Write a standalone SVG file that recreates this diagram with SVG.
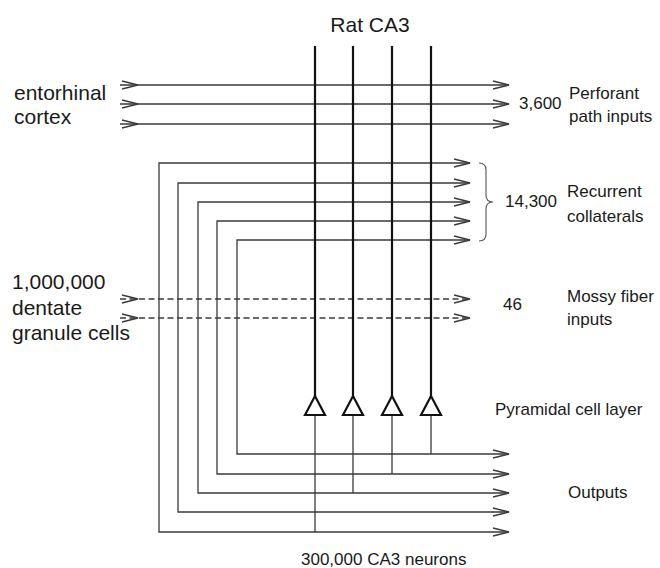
<svg xmlns="http://www.w3.org/2000/svg" xmlns:xlink="http://www.w3.org/1999/xlink" width="660" height="568" viewBox="0 0 660 568">
<style>
.thin{stroke:#3a3a3a;stroke-width:1.3;fill:none}
.thick{stroke:#111;stroke-width:2.2;fill:none}
.tri{stroke:#111;stroke-width:2.2;fill:#fff;stroke-linejoin:miter}
.dash{stroke-dasharray:6 3.5}
.chev{stroke:#3a3a3a;stroke-width:1.3;fill:none}
.brace{stroke:#555;stroke-width:1.1;fill:none}
text{font-family:"Liberation Sans",Arial,sans-serif;fill:#1a1a1a}
.big{font-size:21px}
.sm{font-size:17px}
</style>
<defs>
<path id="chev" d="M-16,-4 L0,0 L-16,4" class="chev"/>
</defs>
<rect width="660" height="568" fill="#fff"/>

<g id="connectors">
  <!-- perforant path inputs -->
  <path class="thin" d="M120,85 H509 M120,104 H509 M120,124 H509"/>
  <use xlink:href="#chev" x="138" y="85"/><use xlink:href="#chev" x="138" y="104"/><use xlink:href="#chev" x="138" y="124"/>
  <use xlink:href="#chev" x="509" y="85"/><use xlink:href="#chev" x="509" y="104"/><use xlink:href="#chev" x="509" y="124"/>
  <!-- mossy fiber inputs -->
  <path class="thin dash" d="M120,299 H470 M120,318 H470"/>
  <use xlink:href="#chev" x="138" y="299"/><use xlink:href="#chev" x="138" y="318"/>
  <use xlink:href="#chev" x="470" y="299"/><use xlink:href="#chev" x="470" y="318"/>
  <!-- recurrent collaterals / outputs -->
  <path class="thin" d="M470,163 H159 V532 H509"/>
  <path class="thin" d="M470,183 H178 V512 H509"/>
  <path class="thin" d="M470,202 H198 V493 H509"/>
  <path class="thin" d="M470,221 H217 V474 H509"/>
  <path class="thin" d="M470,240 H237 V454 H509"/>
  <use xlink:href="#chev" x="470" y="163"/><use xlink:href="#chev" x="470" y="183"/><use xlink:href="#chev" x="470" y="202"/><use xlink:href="#chev" x="470" y="221"/><use xlink:href="#chev" x="470" y="240"/>
  <use xlink:href="#chev" x="509" y="454"/><use xlink:href="#chev" x="509" y="474"/><use xlink:href="#chev" x="509" y="493"/><use xlink:href="#chev" x="509" y="512"/><use xlink:href="#chev" x="509" y="532"/>
  <!-- axons below the cell bodies -->
  <path class="thin" d="M315,415 V532 M353,415 V493 M392,415 V474 M431,415 V454"/>
  <!-- brace -->
  <path class="brace" d="M479,163 Q486,163 486,170 V195 Q486,202 493,202 Q486,202 486,209 V234 Q486,241 479,241"/>
</g>

<g id="neuron1"><path class="thick" d="M315,46 V397"/><path class="tri" d="M305,415 L315,396 L325,415 Z"/></g>
<g id="neuron2"><path class="thick" d="M353,46 V397"/><path class="tri" d="M343,415 L353,396 L363,415 Z"/></g>
<g id="neuron3"><path class="thick" d="M392,46 V397"/><path class="tri" d="M382,415 L392,396 L402,415 Z"/></g>
<g id="neuron4"><path class="thick" d="M431,46 V397"/><path class="tri" d="M421,415 L431,396 L441,415 Z"/></g>

<g id="labels">
  <text class="big" x="370" y="32" text-anchor="middle">Rat CA3</text>
  <text class="big" x="14" y="100">entorhinal</text>
  <text class="big" x="14" y="124">cortex</text>
  <text class="sm" x="519" y="109">3,600</text>
  <text class="sm" x="569" y="99">Perforant</text>
  <text class="sm" x="569" y="122">path inputs</text>
  <text class="sm" x="505" y="207">14,300</text>
  <text class="sm" x="567" y="197">Recurrent</text>
  <text class="sm" x="567" y="222">collaterals</text>
  <text class="big" x="12" y="289">1,000,000</text>
  <text class="big" x="12" y="315">dentate</text>
  <text class="big" x="12" y="340">granule cells</text>
  <text class="sm" x="503" y="310">46</text>
  <text class="sm" x="567" y="302">Mossy fiber</text>
  <text class="sm" x="567" y="325">inputs</text>
  <text class="sm" x="495" y="415">Pyramidal cell layer</text>
  <text class="sm" x="568" y="498">Outputs</text>
  <text class="sm" x="301" y="565">300,000 CA3 neurons</text>
</g>
</svg>
